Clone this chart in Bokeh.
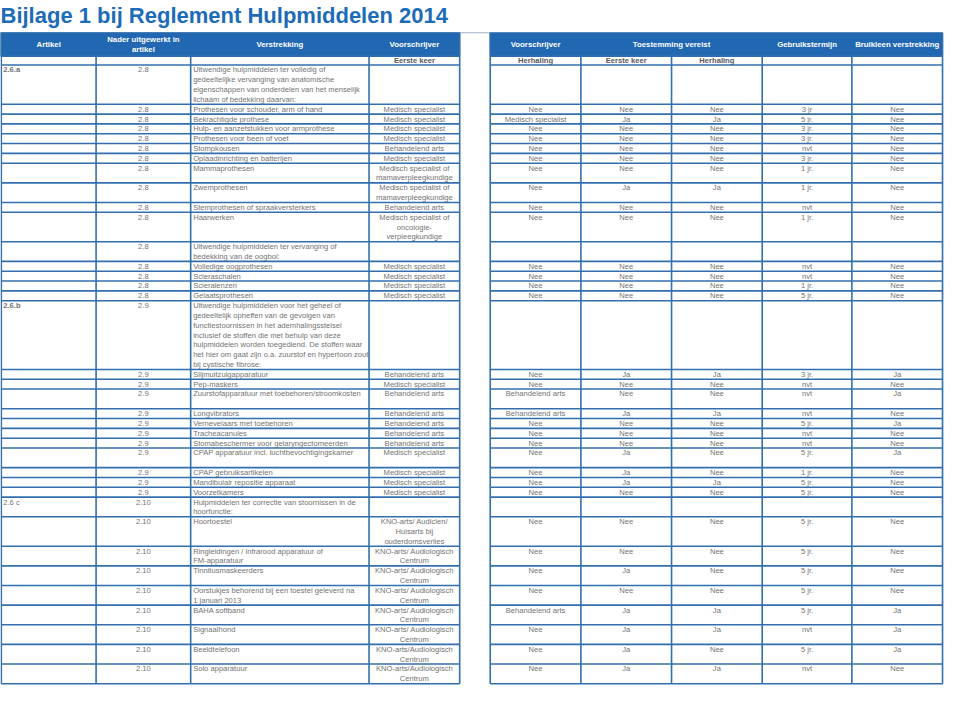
from bokeh.plotting import figure
from bokeh.models import Range1d
from bokeh.embed import file_html
from bokeh.resources import INLINE
from bokeh.core.properties import value

# ---------------- data ----------------
title = "Bijlage 1 bij Reglement Hulpmiddelen 2014"

left_headers = ["Artikel", "Nader uitgewerkt in\nartikel", "Verstrekking", "Voorschrijver"]
left_sub = ["", "", "", "Eerste keer"]
right_headers = ["Voorschrijver", "Toestemming vereist", "Gebruikstermijn", "Bruikleen verstrekking"]
right_sub = ["Herhaling", "Eerste keer", "Herhaling", "", ""]

artikel = ["2.6.a", "", "", "", "", "", "", "", "", "", "", "", "", "", "", "",
           "2.6.b", "", "", "", "", "", "", "", "", "", "", "",
           "2.6 c", "", "", "", "", "", "", "", ""]

nader = ["2.8", "2.8", "2.8", "2.8", "2.8", "2.8", "2.8", "2.8", "2.8", "2.8", "2.8", "2.8",
         "2.8", "2.8", "2.8", "2.8",
         "2.9", "2.9", "2.9", "2.9", "2.9", "2.9", "2.9", "2.9", "2.9", "2.9", "2.9", "2.9",
         "2.10", "2.10", "2.10", "2.10", "2.10", "2.10", "2.10", "2.10", "2.10"]

verstrekking = [
    "Uitwendige hulpmiddelen ter volledig of\ngedeeltelijke vervanging van anatomische\neigenschappen van onderdelen van het menselijk\nlichaam of bedekking daarvan:",
    "Prothesen voor schouder, arm of hand",
    "Bekrachtigde prothese",
    "Hulp- en aanzetstukken voor armprothese",
    "Prothesen voor been of voet",
    "Stompkousen",
    "Oplaadinrichting en batterijen",
    "Mammaprothesen",
    "Zwemprothesen",
    "Stemprothesen of spraakversterkers",
    "Haarwerken",
    "Uitwendige hulpmiddelen ter vervanging of\nbedekking van de oogbol:",
    "Volledige oogprothesen",
    "Scleraschalen",
    "Scleralenzen",
    "Gelaatsprothesen",
    "Uitwendige hulpmiddelen voor het geheel of\ngedeeltelijk opheffen van de gevolgen van\nfunctiestoornissen in het ademhalingsstelsel\ninclusief de stoffen die met behulp van deze\nhulpmiddelen worden toegediend. De stoffen waar\nhet hier om gaat zijn o.a. zuurstof en hypertoon zout\nbij cystische fibrose:",
    "Slijmuitzuigapparatuur",
    "Pep-maskers",
    "Zuurstofapparatuur met toebehoren/stroomkosten",
    "Longvibrators",
    "Vernevelaars met toebehoren",
    "Tracheacanules",
    "Stomabeschermer voor gelaryngectomeerden",
    "CPAP apparatuur incl. luchtbevochtigingskamer",
    "CPAP gebruiksartikelen",
    "Mandibulair repositie apparaat",
    "Voorzetkamers",
    "Hulpmiddelen ter correctie van stoornissen in de\nhoorfunctie:",
    "Hoortoestel",
    "Ringleidingen / infrarood apparatuur of\nFM-apparatuur",
    "Tinnitusmaskeerders",
    "Oorstukjes behorend bij een toestel geleverd na\n1 januari 2013",
    "BAHA softband",
    "Signaalhond",
    "Beeldtelefoon",
    "Solo apparatuur",
]

MS = "Medisch specialist"
BA = "Behandelend arts"
KA = "KNO-arts/ Audiologisch\nCentrum"
voorschrijver_eerste = [
    "", MS, MS, MS, MS, BA, MS,
    "Medisch specialist of\nmamaverpleegkundige",
    "Medisch specialist of\nmamaverpleegkundige",
    BA,
    "Medisch specialist of\noncologie-\nverpleegkundige",
    "", MS, MS, MS, MS,
    "", BA, MS, BA, BA, BA, BA, BA, MS, MS, MS, MS,
    "", "KNO-arts/ Audicien/\nHuisarts bij\nouderdomsverlies",
    KA, KA, KA, KA, KA,
    "KNO-arts/Audiologisch\nCentrum", "KNO-arts/Audiologisch\nCentrum",
]

voorschrijver_herhaling = [
    "", "Nee", MS, "Nee", "Nee", "Nee", "Nee", "Nee", "Nee", "Nee", "Nee",
    "", "Nee", "Nee", "Nee", "Nee",
    "", "Nee", "Nee", BA, BA, "Nee", "Nee", "Nee", "Nee", "Nee", "Nee", "Nee",
    "", "Nee", "Nee", "Nee", "Nee", BA, "Nee", "Nee", "Nee",
]

toestemming_eerste = [
    "", "Nee", "Ja", "Nee", "Nee", "Nee", "Nee", "Nee", "Ja", "Nee", "Nee",
    "", "Nee", "Nee", "Nee", "Nee",
    "", "Ja", "Nee", "Nee", "Ja", "Nee", "Nee", "Nee", "Ja", "Ja", "Ja", "Nee",
    "", "Nee", "Nee", "Ja", "Nee", "Ja", "Ja", "Ja", "Ja",
]

toestemming_herhaling = [
    "", "Nee", "Ja", "Nee", "Nee", "Nee", "Nee", "Nee", "Ja", "Nee", "Nee",
    "", "Nee", "Nee", "Nee", "Nee",
    "", "Ja", "Nee", "Nee", "Ja", "Nee", "Nee", "Nee", "Nee", "Nee", "Ja", "Nee",
    "", "Nee", "Nee", "Nee", "Nee", "Ja", "Ja", "Nee", "Ja",
]

gebruikstermijn = [
    "", "3 jr", "5 jr.", "3 jr.", "3 jr.", "nvt", "3 jr.", "1 jr.", "1 jr.", "nvt", "1 jr.",
    "", "nvt", "nvt", "1 jr.", "5 jr.",
    "", "3 jr.", "nvt", "nvt", "nvt", "5 jr.", "nvt", "nvt", "5 jr.", "1 jr.", "5 jr.", "5 jr.",
    "", "5 jr.", "5 jr.", "5 jr.", "5 jr.", "5 jr.", "nvt", "5 jr.", "nvt",
]

bruikleen = [
    "", "Nee", "Nee", "Nee", "Nee", "Nee", "Nee", "Nee", "Nee", "Nee", "Nee",
    "", "Nee", "Nee", "Nee", "Nee",
    "", "Ja", "Nee", "Ja", "Nee", "Ja", "Nee", "Nee", "Ja", "Nee", "Nee", "Nee",
    "", "Nee", "Nee", "Nee", "Nee", "Ja", "Ja", "Ja", "Nee",
]

# ---------------- layout / style ----------------
extra_row_lines = {19: 2, 24: 2}      # rows drawn taller than their text
bold_artikel_rows = {0, 16}

W_REF, H_REF = 958, 701
LEFT_EDGES = [0.8, 97, 193, 374, 466]
RIGHT_EDGES = [497, 589, 681, 773, 864, 956]
HEAD_TOP, HEAD_BOT, SUB_BOT = 33, 57, 66
LH = 10.05

FONT = "Liberation Sans"
BLUE_HEAD = "#2167b1"
BLUE_LINE = "#336fae"
TXT = "#737373"
SUBTXT = "#5a5a5a"
TITLE_C = "#1d6cb8"
BODY_SIZE = "7.6px"
HEAD_SIZE = "7.8px"

p = figure(width=944, height=685, output_backend="svg", toolbar_location=None,
           x_range=Range1d(0, W_REF), y_range=Range1d(H_REF, 0),
           min_border=0, min_border_left=0, min_border_right=0,
           min_border_top=0, min_border_bottom=0)
p.axis.visible = False
p.grid.visible = False
p.outline_line_color = None
p.background_fill_color = "white"
p.border_fill_color = "white"

# row geometry from line counts
n_rows = len(verstrekking)
columns = [artikel, nader, verstrekking, voorschrijver_eerste,
           voorschrijver_herhaling, toestemming_eerste, toestemming_herhaling,
           gebruikstermijn, bruikleen]
row_lines = []
for i in range(n_rows):
    n = max(c[i].count("\n") + 1 if c[i] else 1 for c in columns)
    n = max(n, extra_row_lines.get(i, 1))
    row_lines.append(n)
row_tops = []
y = SUB_BOT
for n in row_lines:
    row_tops.append(y)
    y += n * LH
table_bottom = y
row_bounds = row_tops + [table_bottom]

groups = {}


def add_text(x, ytop, txt, align, style="normal", color=TXT, size=BODY_SIZE, lh=LH):
    if not txt:
        return
    key = (align, style, color, size)
    g = groups.setdefault(key, ([], [], []))
    for k, line in enumerate(txt.split("\n")):
        g[0].append(x)
        g[1].append(ytop + (k + 0.5) * lh)
        g[2].append(line)


# title
p.text(x=[0], y=[2.5], text=[title], text_font=value(FONT), text_font_style="bold",
       text_font_size="22px", text_color=TITLE_C, text_baseline="top", text_align="left")

# faint line above headers
p.segment(x0=[0], y0=[HEAD_TOP], x1=[RIGHT_EDGES[0]], y1=[HEAD_TOP],
          line_color="#9fb3c8", line_width=1)

# header bands
p.quad(left=[LEFT_EDGES[0] - 0.8, RIGHT_EDGES[0]], right=[LEFT_EDGES[-1], RIGHT_EDGES[-1]],
       top=[HEAD_TOP, HEAD_TOP], bottom=[HEAD_BOT, HEAD_BOT],
       fill_color=BLUE_HEAD, line_color=BLUE_LINE, line_width=1)

head_mid = (HEAD_TOP + HEAD_BOT) / 2
for j, h in enumerate(left_headers):
    cx = (LEFT_EDGES[j] + LEFT_EDGES[j + 1]) / 2
    nl = h.count("\n") + 1
    add_text(cx, head_mid - nl * 10 / 2, h, "center", "bold", "white", HEAD_SIZE, 10)
right_head_spans = [(0, 1), (1, 3), (3, 4), (4, 5)]
for h, (a, b) in zip(right_headers, right_head_spans):
    cx = (RIGHT_EDGES[a] + RIGHT_EDGES[b]) / 2
    add_text(cx, head_mid - 5, h, "center", "bold", "white", HEAD_SIZE, 10)

# sub header
for j, s in enumerate(left_sub):
    cx = (LEFT_EDGES[j] + LEFT_EDGES[j + 1]) / 2
    add_text(cx, HEAD_BOT, s, "center", "bold", SUBTXT, BODY_SIZE, SUB_BOT - HEAD_BOT)
for j, s in enumerate(right_sub):
    cx = (RIGHT_EDGES[j] + RIGHT_EDGES[j + 1]) / 2
    add_text(cx, HEAD_BOT, s, "center", "bold", SUBTXT, BODY_SIZE, SUB_BOT - HEAD_BOT)

# body
right_cols = [voorschrijver_herhaling, toestemming_eerste, toestemming_herhaling,
              gebruikstermijn, bruikleen]
for i in range(n_rows):
    t = row_tops[i]
    add_text(LEFT_EDGES[0] + 2, t, artikel[i], "left",
             "bold" if i in bold_artikel_rows else "normal")
    add_text((LEFT_EDGES[1] + LEFT_EDGES[2]) / 2, t, nader[i], "center")
    add_text(LEFT_EDGES[2] + 2.5, t, verstrekking[i], "left")
    add_text((LEFT_EDGES[3] + LEFT_EDGES[4]) / 2, t, voorschrijver_eerste[i], "center")
    for j, col in enumerate(right_cols):
        add_text((RIGHT_EDGES[j] + RIGHT_EDGES[j + 1]) / 2, t, col[i], "center")

# grid lines
x0s, y0s, x1s, y1s = [], [], [], []
for edges in (LEFT_EDGES, RIGHT_EDGES):
    for yb in [HEAD_BOT, SUB_BOT] + row_bounds[1:]:
        x0s.append(edges[0]); x1s.append(edges[-1]); y0s.append(yb); y1s.append(yb)
    for xe in edges:
        x0s.append(xe); x1s.append(xe); y0s.append(HEAD_BOT); y1s.append(table_bottom)
    for xe in (edges[0], edges[-1]):
        x0s.append(xe); x1s.append(xe); y0s.append(HEAD_TOP); y1s.append(HEAD_BOT)
p.segment(x0=x0s, y0=y0s, x1=x1s, y1=y1s, line_color=BLUE_LINE, line_width=1.6)

for (align, style, color, size), (xs, ys, ts) in groups.items():
    p.text(x=xs, y=ys, text=ts, text_font=value(FONT), text_font_style=style,
           text_font_size=size, text_color=color, text_align=align,
           text_baseline="middle")

open("out.html", "w").write(file_html(p, INLINE))
